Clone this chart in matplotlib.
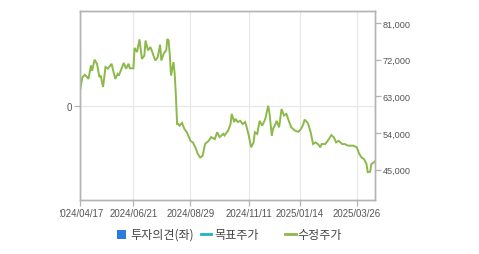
import matplotlib
matplotlib.use("Agg")
import matplotlib.pyplot as plt
from matplotlib.lines import Line2D
from matplotlib.patches import Rectangle
from matplotlib.transforms import Bbox

plt.rcParams['font.family'] = ['Liberation Sans', 'DejaVu Sans']

# trading-day index of each traced vertex and adjusted close price (KRW)
day_idx = [0, 2, 4, 7, 9, 10, 12, 14, 16, 17, 19, 21, 23, 26, 29, 31, 32, 36, 38, 40,
           41, 44, 45, 47, 49, 51, 53, 54, 56, 58, 60, 62, 64, 66, 67, 69, 71, 72, 73, 74,
           75, 77, 78, 79, 80, 81, 82, 84, 86, 88, 91, 93, 95, 97, 99, 101, 103, 106, 108, 111,
           113, 115, 118, 119, 122, 124, 125, 127, 128, 130, 132, 134, 136, 137, 139, 141, 143, 144, 146, 148,
           150, 152, 153, 155, 156, 158, 159, 161, 162, 164, 166, 168, 170, 172, 174, 177, 180, 182, 184, 185,
           187, 188, 190, 192, 194, 196, 198, 199, 202, 205, 207, 209, 211, 213, 216, 218, 221, 225, 228, 230,
           232, 234, 236, 237, 239, 240, 242, 243]
price = [64400, 67700, 68300, 67300, 70600, 69300, 72000, 71000, 67700, 68100,
         65300, 70200, 69800, 71000, 67300, 68500, 68100, 71200, 69800, 71000,
         69900, 69900, 74900, 73900, 77000, 72200, 73000, 76700, 74300, 75100,
         73500, 71800, 72600, 75700, 71800, 73500, 74300, 77100, 76700, 73000,
         68100, 71400, 68500, 63200, 56200, 56200, 55800, 56500, 55000, 54200,
         52100, 51700, 50500, 48900, 48000, 48400, 51300, 52100, 53000, 52500,
         54200, 53000, 53800, 53400, 54600, 56200, 58700, 56700, 57500, 56700,
         57000, 56200, 56700, 55800, 53400, 50500, 51700, 54200, 53800, 57000,
         55800, 57000, 57900, 60700, 59100, 53400, 55000, 56200, 57000, 55400,
         59900, 58300, 58700, 57000, 55400, 54600, 54300, 55000, 56200, 57300,
         56700, 56200, 54200, 51300, 51700, 51300, 50500, 51300, 51300, 52500,
         53500, 53000, 51700, 52100, 51300, 51300, 50900, 50900, 50500, 48900,
         48000, 47600, 46400, 44400, 44500, 46400, 46800, 47100]

date_ticks = [0, 44, 91, 139, 181, 228]
date_labels = ['2024/04/17', '2024/06/21', '2024/08/29', '2024/11/11', '2025/01/14', '2025/03/26']
price_ticks = [45000, 54000, 63000, 72000, 81000]
legend_labels = ['투자의견(좌)', '목표주가', '수정주가']

W, H = 479, 255
fig = plt.figure(figsize=(W / 100, H / 100), dpi=100)
L, R, T, B = 80, 375, 12, 201
ax = fig.add_axes([L / W, 1 - B / H, (R - L) / W, (B - T) / H])
ax2 = ax.twinx()

frame_c = '#b4b4b4'
grid_c = '#e8e8e8'
txt_c = '#555555'

ax.set_xlim(0, 243)
ax.set_ylim(-1, 1.01)
ax.set_yticks([0])
ax.set_yticklabels(['0'])
ax.set_xticks(date_ticks)
ax.set_xticklabels(date_labels)
ax.grid(True, color=grid_c, linewidth=0.9)
ax.set_axisbelow(True)

ax2.set_ylim(37570, 83950)
ax2.set_yticks(price_ticks)
ax2.set_yticklabels([f'{v:,}' for v in price_ticks])
ax2.plot(day_idx, price, color='#8bb94a', linewidth=1.4, solid_joinstyle='miter')

for a in (ax, ax2):
    for s in a.spines.values():
        s.set_color(frame_c)
        s.set_linewidth(1.0)
    a.tick_params(colors=frame_c, labelcolor=txt_c, length=4, width=0.9, pad=1.5)
ax.tick_params(axis='x', labelsize=6.9)
ax.tick_params(axis='y', labelsize=6.9, pad=2)
ax2.tick_params(axis='y', labelsize=6.6)

# first date label is clipped at the canvas edge in the reference
first = ax.get_xticklabels()[0]
first.set_clip_box(Bbox([[60, 0], [W, H]]))
first.set_clip_on(True)

# legend drawn manually (uneven spacing as in reference)
def fx(px):
    return px / W

def fy(py):
    return 1 - py / H

ly = 235.3
kr = ['Noto Sans CJK KR', 'DejaVu Sans']
fig.add_artist(Rectangle((fx(116.7), fy(239.5)), 9 / W, 8.5 / H, transform=fig.transFigure,
                         facecolor='#2d7be0', edgecolor='none'))
fig.text(fx(130), fy(ly), legend_labels[0], fontsize=8.7, color='#444444', va='center', ha='left', family=kr)
fig.add_artist(Line2D([fx(200.7), fx(210.5)], [fy(ly), fy(ly)], transform=fig.transFigure,
                      color='#1fb1c6', linewidth=2))
fig.text(fx(214.5), fy(ly), legend_labels[1], fontsize=8.7, color='#444444', va='center', ha='left', family=kr)
fig.add_artist(Line2D([fx(285), fx(295.5)], [fy(ly), fy(ly)], transform=fig.transFigure,
                      color='#8bb94a', linewidth=2))
fig.text(fx(297.5), fy(ly), legend_labels[2], fontsize=8.7, color='#444444', va='center', ha='left', family=kr)

fig.savefig('out.png', dpi=100)
